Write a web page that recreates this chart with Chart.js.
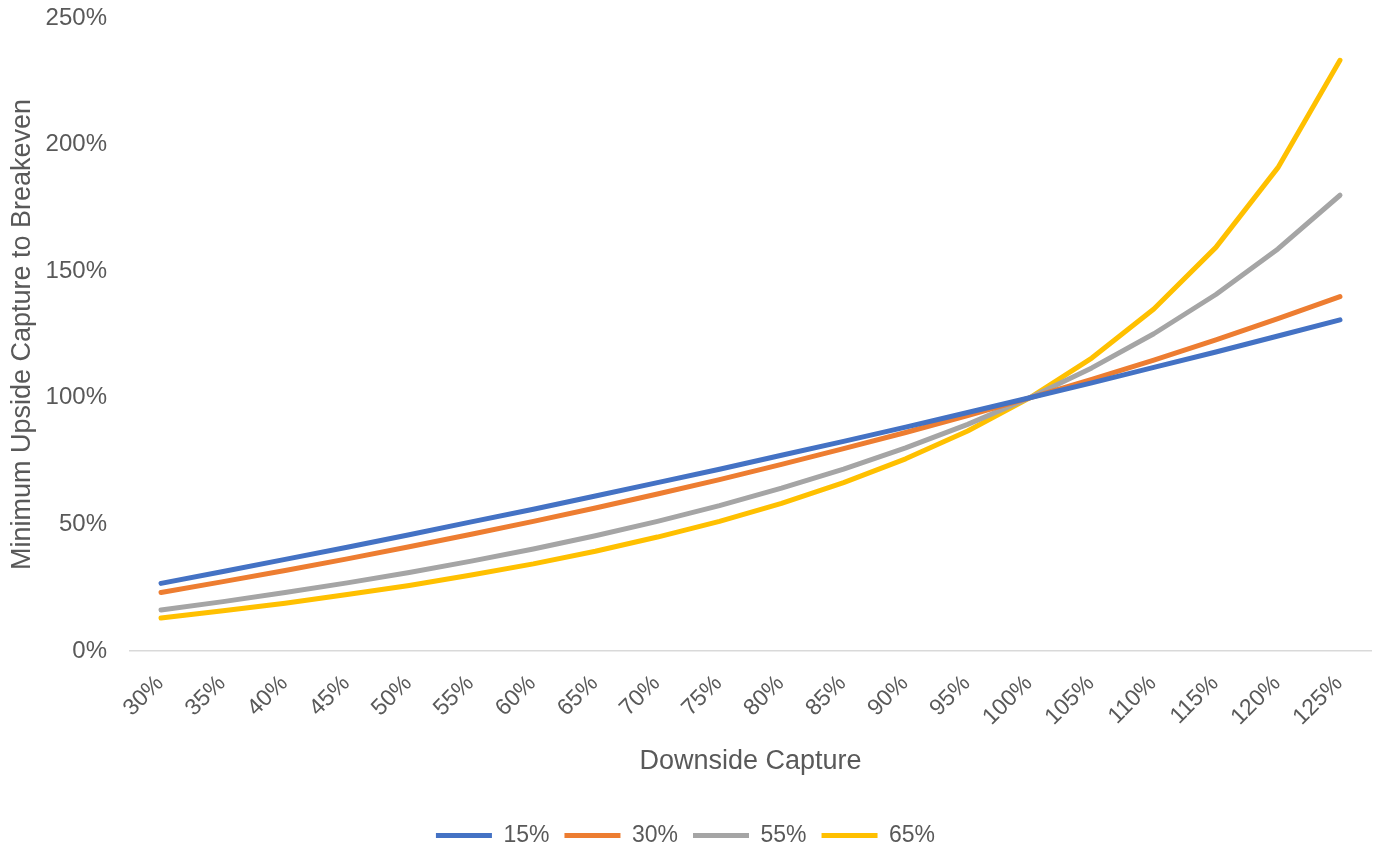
<!DOCTYPE html>
<html>
<head>
<meta charset="utf-8">
<title>Minimum Upside Capture to Breakeven</title>
<script src="https://cdn.jsdelivr.net/npm/chart.js@4"></script>
<style>
    html, body { margin: 0; padding: 0; background: #ffffff; }
    #wrap { width: 1375px; height: 852px; position: relative; }
</style>
</head>
<body>
<div id="wrap"><canvas id="captureChart"></canvas></div>
<script>
// Downside capture categories (x axis)
const downsideLabels = ['30%', '35%', '40%', '45%', '50%', '55%', '60%', '65%', '70%', '75%',
    '80%', '85%', '90%', '95%', '100%', '105%', '110%', '115%', '120%', '125%'];

// Series names (legend)
const seriesNames = ['15%', '30%', '55%', '65%'];

// Minimum upside capture to breakeven, in %
const series15 = [26.7, 31.4, 36.2, 41.0, 45.9, 51.0, 56.0, 61.2, 66.5, 71.8,
    77.3, 82.8, 88.4, 94.2, 100.0, 105.9, 112.0, 118.1, 124.4, 130.8];
const series30 = [23.1, 27.4, 31.8, 36.4, 41.2, 46.1, 51.2, 56.5, 62.0, 67.7,
    73.7, 79.9, 86.3, 93.0, 100.0, 107.3, 114.9, 122.9, 131.3, 140.0];
const series55 = [16.2, 19.5, 23.1, 26.9, 31.0, 35.5, 40.3, 45.5, 51.2, 57.4,
    64.3, 71.8, 80.2, 89.5, 100.0, 111.8, 125.3, 140.8, 158.8, 180.0];
const series65 = [13.0, 15.9, 18.9, 22.3, 25.9, 30.0, 34.4, 39.4, 45.0, 51.2,
    58.3, 66.5, 75.9, 86.9, 100.0, 115.7, 135.1, 159.4, 190.9, 233.3];

// Y axis ticks
const yMin = 0;
const yMax = 250;
const yStep = 50;

const seriesColors = ['#4472C4', '#ED7D31', '#A5A5A5', '#FFC000'];
const allSeries = [series15, series30, series55, series65];

const textColor = '#595959';
const fontFamily = '"Liberation Sans", Arial, sans-serif';

document.addEventListener('DOMContentLoaded', function() {
    const ctx = document.getElementById('captureChart').getContext('2d');

    const datasets = allSeries.map((values, i) => ({
        label: seriesNames[i],
        data: values,
        borderColor: seriesColors[i],
        backgroundColor: seriesColors[i],
        borderWidth: 5,
        borderCapStyle: 'round',
        borderJoinStyle: 'round',
        pointRadius: 0,
        pointHoverRadius: 0,
        pointStyle: 'line',
        tension: 0,
        fill: false
    }));

    new Chart(ctx, {
        type: 'line',
        data: {
            labels: downsideLabels,
            datasets: datasets
        },
        options: {
            responsive: true,
            maintainAspectRatio: false,
            animation: false,
            layout: {
                padding: { top: 18, right: 4, left: 0, bottom: 0 }
            },
            scales: {
                x: {
                    offset: true,
                    grid: { display: false, drawTicks: false },
                    border: { display: true, color: '#d9d9d9', width: 1.5 },
                    ticks: {
                        color: textColor,
                        font: { family: fontFamily, size: 23 },
                        minRotation: 45,
                        maxRotation: 45,
                        padding: 19,
                        labelOffset: -1
                    },
                    title: {
                        display: true,
                        text: 'Downside Capture',
                        color: textColor,
                        font: { family: fontFamily, size: 27 },
                        padding: { top: 10, bottom: 31 }
                    },
                    // fixed height so the plot bottom sits where the original does
                    afterFit: function(scale) {
                        scale.height = 158;
                        scale.paddingLeft = 0;
                        scale.paddingRight = 0;
                    }
                },
                y: {
                    min: yMin,
                    max: yMax,
                    grid: { display: false, drawTicks: false },
                    border: { display: false },
                    ticks: {
                        stepSize: yStep,
                        color: textColor,
                        font: { family: fontFamily, size: 24 },
                        padding: 23,
                        callback: function(value) {
                            return value + '%';
                        }
                    },
                    title: {
                        display: true,
                        text: 'Minimum Upside Capture to Breakeven',
                        color: textColor,
                        font: { family: fontFamily, size: 27 },
                        padding: { top: 6, bottom: 6 }
                    },
                    afterFit: function(scale) {
                        scale.width = 130;
                        scale.paddingTop = 0;
                        scale.paddingBottom = 0;
                    }
                }
            },
            plugins: {
                legend: {
                    position: 'bottom',
                    maxHeight: 43,
                    labels: {
                        usePointStyle: true,
                        pointStyleWidth: 56,
                        color: textColor,
                        font: { family: fontFamily, size: 23 },
                        padding: 15
                    }
                },
                tooltip: { enabled: false }
            }
        }
    });
});
</script>
</body>
</html>
